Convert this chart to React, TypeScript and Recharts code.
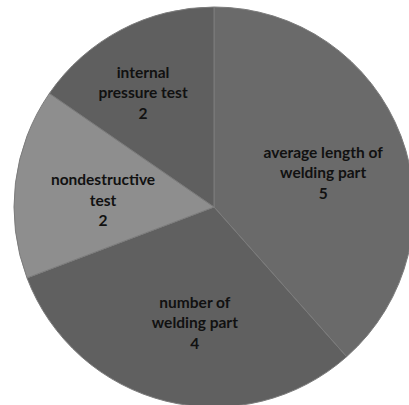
import { PieChart, Pie, Cell } from "recharts";

const categories = [
  "average length of welding part",
  "number of welding part",
  "nondestructive test",
  "internal pressure test",
];
const values = [5, 4, 2, 2];
// label lines as they wrap in the reference
const labelLines = [
  ["average length of", "welding part"],
  ["number of", "welding part"],
  ["nondestructive", "test"],
  ["internal", "pressure test"],
];

const SLICE_COLORS = ["#6a6a6a", "#606060", "#8e8e8e", "#5f5f5f"];
// label placement relative to each slice's mid angle
const LABEL_RADIUS = [0.573, 0.583, 0.556, 0.675];
const LABEL_ANGLE_SHIFT = [-3, 4.4, 3.3, 4];

const data = categories.map((name, i) => ({ name, value: values[i] }));

const RAD = Math.PI / 180;

function renderLabel(props: any) {
  const { cx, cy, midAngle, outerRadius, index, value } = props;
  const r = outerRadius * LABEL_RADIUS[index];
  const a = midAngle + LABEL_ANGLE_SHIFT[index];
  const x = cx + r * Math.cos(-a * RAD);
  const y = cy + r * Math.sin(-a * RAD);
  const lines = [...labelLines[index], String(value)];
  const lineH = 20.5;
  const top = y - ((lines.length - 1) * lineH) / 2;
  return (
    <text
      x={x}
      y={top}
      textAnchor="middle"
      dominantBaseline="central"
      fill="#111"
      fontFamily="Lato, 'Open Sans', sans-serif"
      fontWeight="bold"
      fontSize={15.5}
    >
      {lines.map((l, i) => (
        <tspan key={i} x={x} y={top + i * lineH}>
          {l}
        </tspan>
      ))}
    </text>
  );
}

export default function App() {
  return (
    <div style={{ position: "absolute", left: 0, top: 0, width: 409, height: 405, background: "#fff", overflow: "hidden" }}>
      <PieChart width={409} height={405} margin={{ top: 0, right: 0, bottom: 0, left: 0 }}>
        <Pie
          data={data}
          dataKey="value"
          nameKey="name"
          cx={214}
          cy={207}
          outerRadius={200}
          startAngle={90}
          endAngle={-270}
          stroke="#7c7c7c"
          strokeWidth={1}
          label={renderLabel}
          labelLine={false}
          isAnimationActive={false}
        >
          {data.map((d, i) => (
            <Cell key={d.name} fill={SLICE_COLORS[i]} />
          ))}
        </Pie>
      </PieChart>
    </div>
  );
}
